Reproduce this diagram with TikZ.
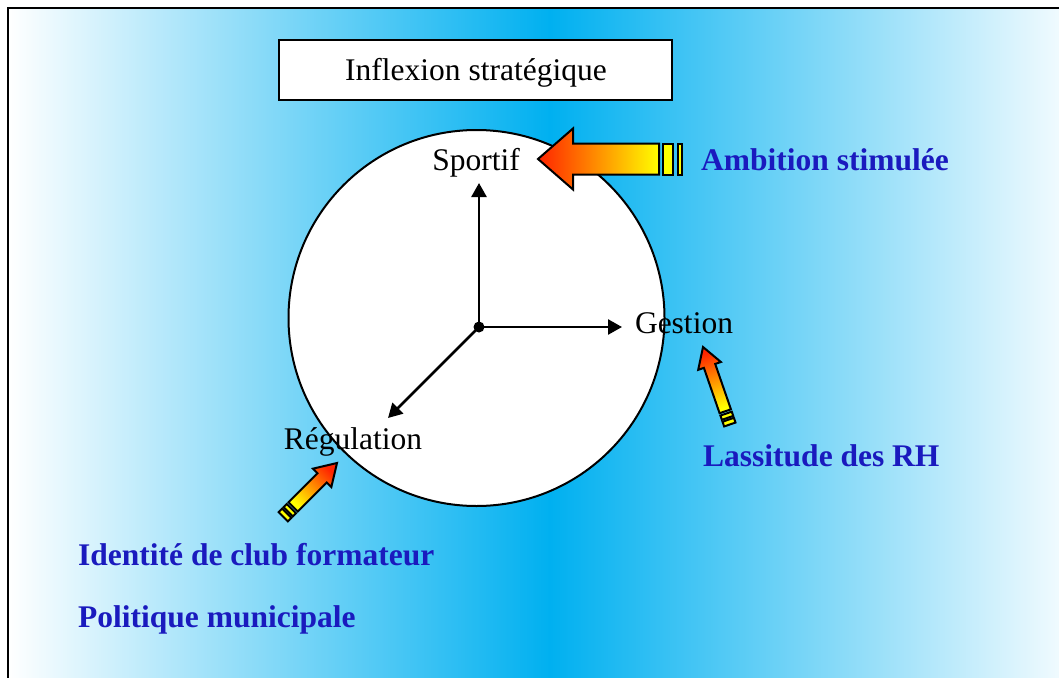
\documentclass[tikz,border=0pt]{standalone}
\usepackage{fontspec}
\setmainfont{Liberation Serif}
\usetikzlibrary{arrows.meta}
\definecolor{bgcyan}{RGB}{0,176,240}
\definecolor{txtblue}{RGB}{26,26,190}
\definecolor{arred}{RGB}{255,36,0}
\definecolor{aryel}{RGB}{255,255,0}
\tikzset{
  lbl/.style={inner sep=0pt, anchor=base, font=\fontsize{31.5}{38}\selectfont},
  blbl/.style={inner sep=0pt, anchor=base west, text=txtblue, font=\fontsize{31.5}{38}\selectfont\bfseries},
  axisarrow/.style={line width=2.6pt, -{Triangle[length=14pt,width=15pt]}},
  arrowline/.style={line width=2pt, draw=black, line join=miter},
  stripe/.style={arrowline, fill=aryel},
}
\begin{document}
\begin{tikzpicture}[x=1pt,y=-1pt]
\useasboundingbox (0,0) rectangle (1059,677);
\clip (0,0) rectangle (1059,677);
% background
\shade[left color=white, right color=bgcyan] (8,8) rectangle (550.5,720);
\shade[left color=bgcyan, right color=white] (549.5,8) rectangle (1092,720);
\draw[line width=2.4pt] (8,8) rectangle (1092,720);
% wheel
\node[circle, draw, fill=white, line width=2pt, minimum size=376pt, inner sep=0pt] (wheel) at (476.5,318) {};
% title
\node[draw, fill=white, line width=2pt, minimum width=393pt, minimum height=60pt, inner sep=0pt] (title) at (475.5,70) {};
\node[lbl] (titletxt) at (476,80) {Inflexion stratégique};
% big arrow
\begin{scope}[shift={(538,159)}]
  \shadedraw[arrowline, left color=arred, right color=aryel]
    (0,0) -- (35,-30.5) -- (35,-15.5) -- (121,-15.5) -- (121,15.5) -- (35,15.5) -- (35,30.5) -- cycle;
  \draw[stripe] (125,-15.5) rectangle (135,15.5);
  \draw[stripe] (140,-15.5) rectangle (144,15.5);
\end{scope}
% Gestion arrow
\begin{scope}[shift={(703,347)}, rotate=-70.9]
  \shadedraw[arrowline, top color=arred, bottom color=aryel, shading angle=19]
    (0,0) -- (20,-12) -- (20,-6) -- (68,-6) -- (68,6) -- (20,6) -- (20,12) -- cycle;
  \draw[stripe] (70.5,-6) rectangle (75,6);
  \draw[stripe] (77,-6) rectangle (82,6);
\end{scope}
% Regulation arrow
\begin{scope}[shift={(337,463)}, rotate=-135]
  \shadedraw[arrowline, top color=arred, bottom color=aryel, shading angle=-45]
    (0,0) -- (21,-13) -- (21,-6.5) -- (62,-6.5) -- (62,6.5) -- (21,6.5) -- (21,13) -- cycle;
  \draw[stripe] (64.5,-6.5) rectangle (69,6.5);
  \draw[stripe] (71,-6.5) rectangle (76,6.5);
\end{scope}
% axes
\coordinate (o) at (479,327);
\coordinate (up) at (479,183);
\coordinate (rt) at (622,327);
\coordinate (dl) at (388,418);
\draw[axisarrow] (o) -- (up);
\draw[axisarrow] (o) -- (rt);
\draw[axisarrow] (o) -- (dl);
\fill (o) circle[radius=5.5pt];
% labels
\node[lbl] (sportif) at (476,170) {Sportif};
\node[lbl] (gestion) at (684,333) {Gestion};
\node[lbl] (regul) at (353,449) {Régulation};
\node[blbl] (ambition) at (701,170) {Ambition stimulée};
\node[blbl] (lassitude) at (703,466) {Lassitude des RH};
\node[blbl] (identite) at (78,565) {Identité de club formateur};
\node[blbl] (politique) at (78,627) {Politique municipale};
\end{tikzpicture}
\end{document}
